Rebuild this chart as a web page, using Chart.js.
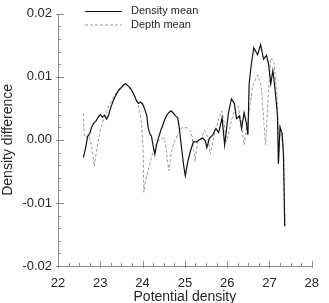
<!DOCTYPE html>
<html>
<head>
<meta charset="utf-8">
<script src="https://cdn.jsdelivr.net/npm/chart.js@4"></script>
<style>
  html, body { margin: 0; padding: 0; background: #fff; overflow: hidden; }
  #wrap { width: 329px; height: 303px; }
</style>
</head>
<body>
<div id="wrap"><canvas id="chart" width="329" height="303"></canvas></div>
<script>
// values: [potential density, density difference]
const densityMean = [
  [22.60, -0.0028], [22.65, -0.0014], [22.70, 0.0005], [22.75, 0.0010], [22.80, 0.0021],
  [22.85, 0.0027], [22.90, 0.0030], [22.95, 0.0036], [23.00, 0.0040], [23.05, 0.0036],
  [23.10, 0.0039], [23.15, 0.0033], [23.20, 0.0040], [23.25, 0.0052], [23.30, 0.0061],
  [23.35, 0.0069], [23.40, 0.0075], [23.45, 0.0080], [23.50, 0.0083], [23.55, 0.0087],
  [23.60, 0.0089], [23.65, 0.0086], [23.70, 0.0083], [23.75, 0.0078], [23.80, 0.0071],
  [23.85, 0.0063], [23.90, 0.0058], [23.95, 0.0060], [24.00, 0.0057], [24.05, 0.0049],
  [24.10, 0.0038], [24.13, 0.0020], [24.17, 0.0010], [24.21, 0.0006], [24.25, -0.0010],
  [24.29, -0.0023], [24.33, -0.0008], [24.38, 0.0004], [24.43, 0.0015], [24.48, 0.0024],
  [24.53, 0.0033], [24.58, 0.0040], [24.63, 0.0044], [24.67, 0.0046], [24.72, 0.0043],
  [24.78, 0.0038], [24.83, 0.0035], [24.87, 0.0018], [24.92, -0.0012], [24.97, -0.0040],
  [25.01, -0.0057], [25.07, -0.0034], [25.13, -0.0018], [25.20, -0.0003], [25.27, -0.0003],
  [25.34, 0.0000], [25.42, 0.0003], [25.48, -0.0001], [25.52, -0.0012], [25.58, 0.0003],
  [25.66, 0.0008], [25.73, 0.0018], [25.80, 0.0012], [25.88, 0.0035], [25.94, -0.0008],
  [26.03, 0.0043], [26.10, 0.0065], [26.17, 0.0058], [26.22, 0.0034], [26.29, 0.0038],
  [26.34, 0.0018], [26.40, 0.0043], [26.45, 0.0028], [26.49, 0.0008], [26.52, 0.0089],
  [26.57, 0.0120], [26.63, 0.0146], [26.72, 0.0135], [26.79, 0.0151], [26.86, 0.0128],
  [26.93, 0.0134], [26.98, 0.0120], [27.03, 0.0089], [27.08, 0.0110], [27.10, 0.0100],
  [27.14, 0.0074], [27.19, 0.0038], [27.21, -0.0038], [27.25, 0.0020], [27.30, 0.0010],
  [27.33, -0.0023], [27.36, -0.0137]
];

const depthMean = [
  [22.60, 0.0042], [22.62, 0.0008], [22.66, 0.0004], [22.70, 0.0008], [22.75, 0.0003],
  [22.80, -0.0012], [22.86, -0.0042], [22.90, -0.0022], [22.95, -0.0002], [23.00, 0.0016],
  [23.05, 0.0026], [23.10, 0.0036], [23.15, 0.0045], [23.20, 0.0054], [23.30, 0.0066],
  [23.37, 0.0074], [23.45, 0.0081], [23.51, 0.0085], [23.60, 0.0088], [23.70, 0.0081],
  [23.78, 0.0074], [23.85, 0.0065], [23.90, 0.0054], [23.95, 0.0038], [23.98, 0.0022],
  [24.01, -0.0010], [24.03, -0.0083], [24.07, -0.0065], [24.13, -0.0049], [24.20, -0.0030],
  [24.25, -0.0018], [24.35, -0.0003], [24.45, 0.0002], [24.52, 0.0003], [24.56, -0.0018],
  [24.62, -0.0049], [24.68, -0.0020], [24.75, -0.0003], [24.83, 0.0008], [24.90, 0.0018],
  [24.96, 0.0020], [25.06, 0.0019], [25.13, 0.0014], [25.17, 0.0005], [25.24, -0.0034],
  [25.30, -0.0003], [25.40, 0.0005], [25.47, 0.0015], [25.55, 0.0003], [25.60, -0.0023],
  [25.68, 0.0003], [25.75, 0.0020], [25.80, 0.0034], [25.87, 0.0046], [25.93, 0.0028],
  [25.98, -0.0003], [26.05, 0.0015], [26.12, 0.0035], [26.19, 0.0050], [26.26, 0.0054],
  [26.33, 0.0028], [26.40, -0.0008], [26.50, 0.0034], [26.60, 0.0085], [26.72, 0.0103],
  [26.81, 0.0085], [26.86, 0.0034], [26.91, -0.0008], [26.96, 0.0058], [27.03, 0.0130],
  [27.10, 0.0126], [27.14, 0.0100], [27.19, 0.0058], [27.22, -0.0035], [27.25, 0.0023],
  [27.30, -0.0003], [27.33, -0.0010], [27.37, -0.0140]
];

const xTicks = [22, 23, 24, 25, 26, 27, 28];
const yTicks = [-0.02, -0.01, 0.00, 0.01, 0.02];
const xMinorStep = 0.25;
const yMinorStep = 0.002;

const seriesNames = ['Density mean', 'Depth mean'];

const axisColor = '#8c8c8c';
const textColor = '#262626';

// inward tick marks + inside legend
const decorations = {
  id: 'decorations',
  afterDraw(chart) {
    const ctx = chart.ctx;
    const xs = chart.scales.x, ys = chart.scales.y;
    const area = chart.chartArea;
    ctx.save();
    ctx.strokeStyle = axisColor;
    ctx.lineWidth = 1;
    ctx.beginPath();
    // axis lines
    ctx.moveTo(area.left + 0.5, area.top);
    ctx.lineTo(area.left + 0.5, area.bottom + 0.5);
    ctx.lineTo(area.right, area.bottom + 0.5);
    // x ticks
    for (let v = xTicks[0]; v <= xTicks[xTicks.length - 1] + 1e-9; v += xMinorStep) {
      const px = Math.round(xs.getPixelForValue(v)) + 0.5;
      const major = Math.abs(v - Math.round(v)) < 1e-9;
      ctx.moveTo(px, area.bottom + (major ? 2 : 0));
      ctx.lineTo(px, area.bottom - (major ? 5 : 3));
    }
    // y ticks
    for (let v = yTicks[0]; v <= yTicks[yTicks.length - 1] + 1e-9; v += yMinorStep) {
      const py = Math.round(ys.getPixelForValue(v)) + 0.5;
      const major = Math.abs(v / 0.01 - Math.round(v / 0.01)) < 1e-6;
      ctx.moveTo(area.left - (major ? 2 : 0), py);
      ctx.lineTo(area.left + (major ? 6 : 3), py);
    }
    ctx.stroke();

    // legend
    ctx.font = '11px "Liberation Sans", Arial, sans-serif';
    ctx.textBaseline = 'middle';
    chart.data.datasets.forEach((ds, i) => {
      const y = 11 + i * 13.5;
      ctx.beginPath();
      ctx.strokeStyle = ds.borderColor;
      ctx.lineWidth = ds.borderWidth;
      ctx.setLineDash(ds.borderDash || []);
      ctx.moveTo(85, y + 0.5);
      ctx.lineTo(122, y + 0.5);
      ctx.stroke();
      ctx.setLineDash([]);
      ctx.fillStyle = textColor;
      ctx.fillText(ds.label, 131, y);
    });
    ctx.restore();
  }
};

new Chart(document.getElementById('chart').getContext('2d'), {
  type: 'line',
  data: {
    datasets: [
      {
        label: seriesNames[0],
        data: densityMean.map(p => ({ x: p[0], y: p[1] })),
        borderColor: '#111111',
        borderWidth: 1.2,
        pointRadius: 0,
        tension: 0,
        fill: false
      },
      {
        label: seriesNames[1],
        data: depthMean.map(p => ({ x: p[0], y: p[1] })),
        borderColor: '#9a9a9a',
        borderWidth: 1,
        borderDash: [3, 2],
        pointRadius: 0,
        tension: 0,
        fill: false
      }
    ]
  },
  options: {
    responsive: false,
    animation: false,
    layout: { padding: { top: 5, right: 12, left: 0, bottom: 0 } },
    plugins: { legend: { display: false }, tooltip: { enabled: false } },
    scales: {
      x: {
        type: 'linear',
        min: xTicks[0],
        max: xTicks[xTicks.length - 1],
        afterBuildTicks: s => { s.ticks = xTicks.map(v => ({ value: v })); },
        afterFit: s => { s.height = 37; },
        border: { display: false },
        grid: { display: false, drawTicks: false },
        ticks: {
          padding: 10,
          color: textColor,
          font: { size: 13, family: '"Liberation Sans", Arial, sans-serif' },
          maxRotation: 0,
          callback: v => String(v)
        },
        title: {
          display: true,
          text: 'Potential density',
          color: textColor,
          padding: { top: 0, bottom: -3 },
          font: { size: 14, family: '"Liberation Sans", Arial, sans-serif' }
        }
      },
      y: {
        min: yTicks[0],
        max: yTicks[yTicks.length - 1],
        afterBuildTicks: s => { s.ticks = yTicks.map(v => ({ value: v })); },
        afterFit: s => { s.width = 58; },
        border: { display: false },
        grid: { display: false, drawTicks: false },
        ticks: {
          padding: 6,
          color: textColor,
          font: { size: 13, family: '"Liberation Sans", Arial, sans-serif' },
          callback: v => (Math.abs(v) < 1e-9 ? 0 : v).toFixed(2)
        },
        title: {
          display: true,
          text: 'Density difference',
          color: textColor,
          padding: { top: 0, bottom: 0 },
          font: { size: 14, family: '"Liberation Sans", Arial, sans-serif' }
        }
      }
    }
  },
  plugins: [decorations]
});
</script>
</body>
</html>
